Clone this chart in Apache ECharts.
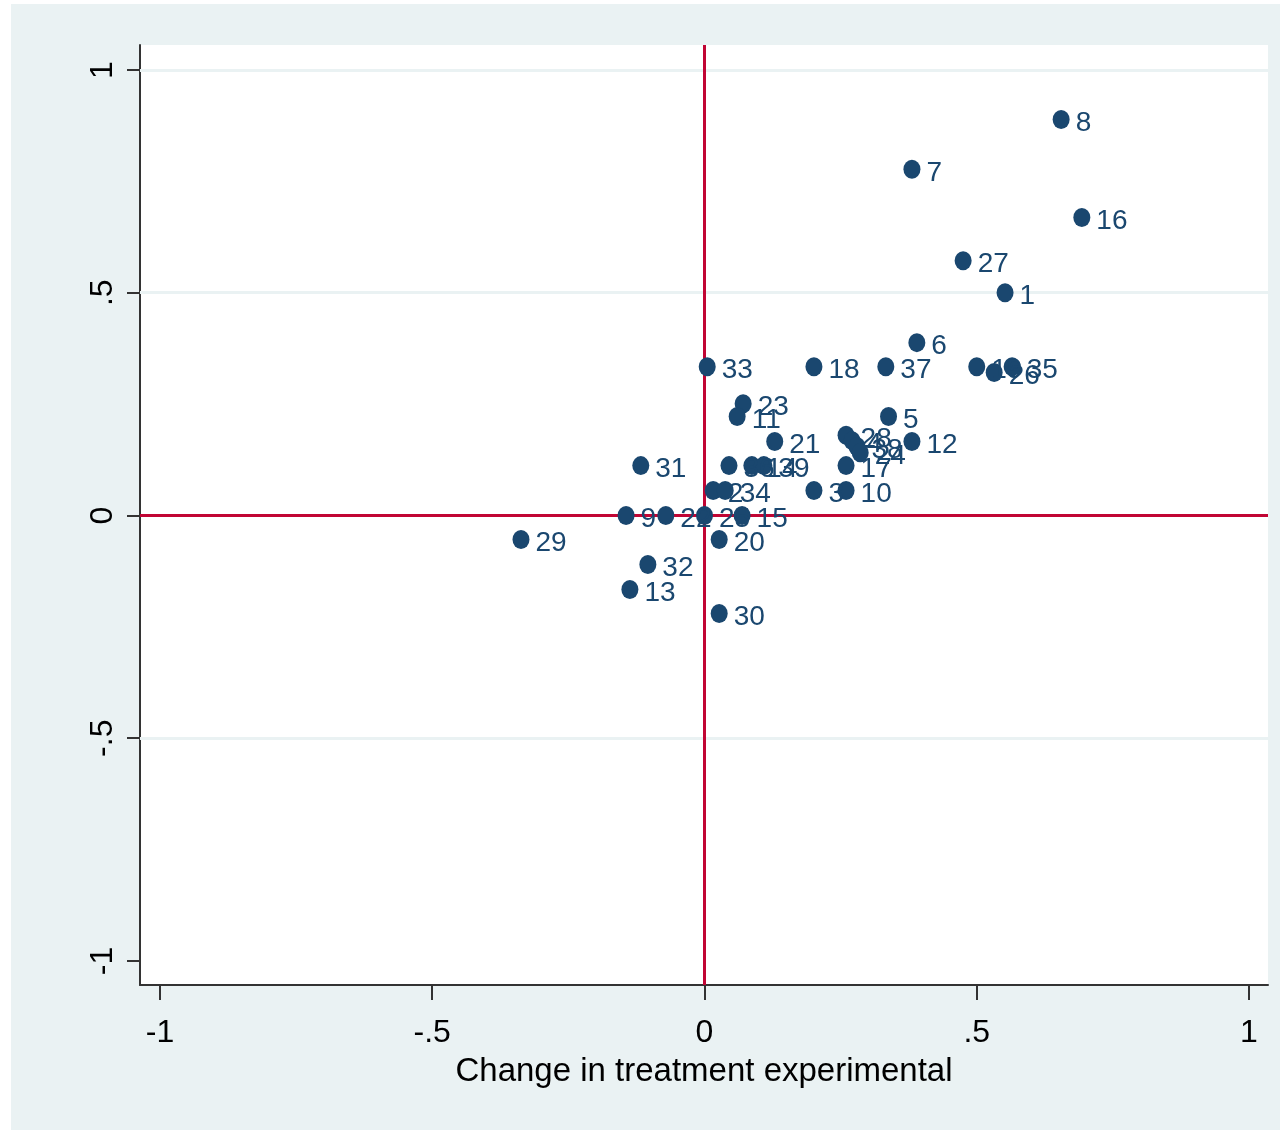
<!DOCTYPE html>
<html>
<head>
<meta charset="utf-8">
<script src="https://cdn.jsdelivr.net/npm/echarts@6/dist/echarts.min.js"></script>
<style>
html,body{margin:0;padding:0;background:#ffffff;}
#chart{width:1284px;height:1134px;}
</style>
</head>
<body>
<div id="chart"></div>
<script>
// ---- data ----
var pointIds = ["8","7","16","27","1","6","33","18","37","19","26","35","23","11","5","21","12","28","4","38","24","31","36","14","39","17","2","34","3","10","9","22","25","15","20","29","32","13","30"];
var changeTreatment = [0.655,0.381,0.693,0.475,0.552,0.390,0.005,0.201,0.333,0.500,0.532,0.565,0.071,0.060,0.338,0.129,0.381,0.260,0.271,0.280,0.286,-0.117,0.045,0.087,0.109,0.260,0.016,0.038,0.201,0.260,-0.144,-0.071,0.000,0.069,0.027,-0.337,-0.104,-0.137,0.027];
var changeOther = [0.889,0.777,0.669,0.572,0.500,0.388,0.334,0.334,0.334,0.334,0.321,0.334,0.251,0.222,0.222,0.166,0.166,0.180,0.168,0.155,0.141,0.112,0.112,0.112,0.112,0.112,0.056,0.056,0.056,0.056,0.000,0.000,0.000,0.000,-0.054,-0.054,-0.110,-0.166,-0.220];
var tickValues = [-1,-0.5,0,0.5,1];
var tickLabels = ["-1","-.5","0",".5","1"];
var xAxisTitle = "Change in treatment experimental";

var seriesData = pointIds.map(function(id,i){ return {name:id, value:[changeTreatment[i], changeOther[i]]}; });
function fmt(v){ for (var i=0;i<tickValues.length;i++){ if (Math.abs(tickValues[i]-v)<1e-9) return tickLabels[i]; } return ''; }

var FONT = "'Liberation Sans Narrow','Arial Narrow','Liberation Sans',sans-serif";
var NAVY = '#1a476f';
var RED = '#c10534';
var BG = '#eaf2f3';

var chart = echarts.init(document.getElementById('chart'), null, {renderer:'canvas'});
chart.setOption({
  animation:false,
  backgroundColor:'#ffffff',
  graphic:[{type:'rect', z:-10, shape:{x:11,y:4,width:1269,height:1126}, style:{fill:BG}}],
  grid:{left:140, top:45, right:16, bottom:149, show:true, backgroundColor:'#ffffff', borderWidth:0},
  xAxis:{
    type:'value', min:-1.0367, max:1.0349,
    axisLine:{show:true, onZero:false, lineStyle:{color:'#333333', width:2}},
    axisTick:{show:true, length:15, customValues:tickValues, lineStyle:{color:'#333333', width:2}},
    axisLabel:{show:true, customValues:tickValues, formatter:fmt, margin:32, fontSize:32, fontFamily:FONT, color:'#000000'},
    splitLine:{show:false},
    name:xAxisTitle, nameLocation:'middle', nameGap:70,
    nameTextStyle:{fontSize:33, fontFamily:FONT, color:'#000000'}
  },
  yAxis:{
    type:'value', min:-1.0539, max:1.0561,
    axisLine:{show:true, onZero:false, lineStyle:{color:'#333333', width:2}},
    axisTick:{show:true, length:13, customValues:tickValues, lineStyle:{color:'#333333', width:2}},
    axisLabel:{show:true, customValues:tickValues, formatter:fmt, rotate:90, margin:21, fontSize:32, fontFamily:FONT, color:'#000000'},
    splitLine:{show:false}
  },
  series:[
    {
      type:'scatter',
      symbol:'circle',
      symbolSize:[17,19],
      itemStyle:{color:NAVY, opacity:1},
      z:5,
      label:{show:true, position:'right', distance:6, offset:[0,4], formatter:'{b}', fontSize:28, fontFamily:FONT, color:NAVY, opacity:1},
      data:seriesData,
      markLine:{
        silent:true, symbol:'none', z:1,
        label:{show:false},
        data:[
          {yAxis:1, lineStyle:{color:BG, width:3, type:'solid', opacity:1}},
          {yAxis:0.5, lineStyle:{color:BG, width:3, type:'solid', opacity:1}},
          {yAxis:-0.5, lineStyle:{color:BG, width:3, type:'solid', opacity:1}},
          {yAxis:0, lineStyle:{color:RED, width:3, type:'solid', opacity:1}},
          {xAxis:0, lineStyle:{color:RED, width:3, type:'solid', opacity:1}}
        ]
      }
    }
  ]
});
</script>
</body>
</html>
